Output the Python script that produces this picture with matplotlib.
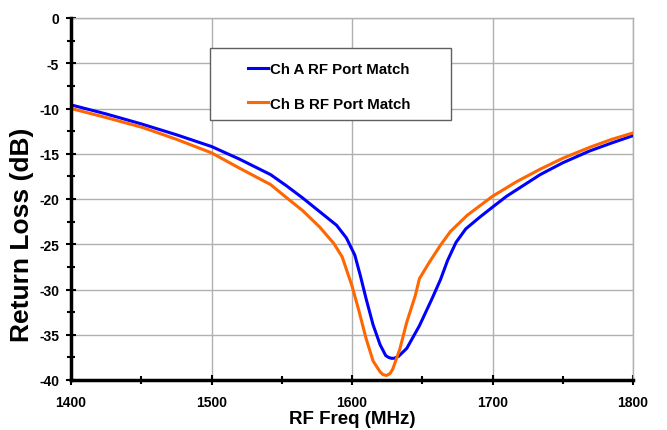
import matplotlib.pyplot as plt
from matplotlib.patches import Rectangle
from matplotlib.ticker import MultipleLocator

plt.rcParams['font.family'] = ['Liberation Sans', 'DejaVu Sans']
plt.rcParams['font.weight'] = 'bold'
plt.rcParams['axes.unicode_minus'] = False

# Ch A RF port match
freq_a = [1400, 1425, 1450, 1475, 1500, 1520, 1542, 1553, 1565, 1577, 1589, 1596,
          1602, 1606, 1610, 1615, 1620, 1624, 1626, 1628, 1630, 1633, 1639, 1648,
          1657, 1663, 1668, 1674, 1681, 1691, 1700, 1710, 1734, 1750, 1769, 1785, 1800]
loss_a = [-9.6, -10.6, -11.7, -12.9, -14.2, -15.6, -17.3, -18.5, -19.9, -21.4, -22.9, -24.3,
          -26.2, -28.5, -31.0, -33.9, -36.1, -37.3, -37.5, -37.6, -37.6, -37.4, -36.5, -34.0,
          -31.0, -28.9, -26.8, -24.8, -23.3, -22.0, -20.9, -19.7, -17.3, -16.0, -14.7, -13.8, -13.0]

# Ch B RF port match
freq_b = [1400, 1425, 1451, 1475, 1500, 1520, 1542, 1553, 1565, 1577, 1587, 1593,
          1600, 1605, 1610, 1615, 1620, 1622, 1624.5, 1627, 1629, 1634, 1639, 1645,
          1648, 1655, 1663, 1670, 1682, 1700, 1717, 1734, 1750, 1769, 1785, 1800]
loss_b = [-10.0, -11.0, -12.1, -13.4, -14.9, -16.6, -18.4, -19.8, -21.3, -23.1, -24.9, -26.4,
          -29.6, -32.4, -35.4, -37.9, -39.1, -39.4, -39.5, -39.3, -38.8, -36.6, -33.6, -30.7,
          -28.8, -27.0, -25.1, -23.6, -21.8, -19.7, -18.1, -16.7, -15.5, -14.3, -13.4, -12.7]

fig = plt.figure(figsize=(6.67, 4.31), dpi=100)
ax = fig.add_axes([71 / 667, 1 - 381 / 431, 562 / 667, 362 / 431])

ax.plot(freq_a, loss_a, color="#0000ff", linewidth=2.2, label="Ch A RF Port Match", zorder=4)
ax.plot(freq_b, loss_b, color="#ff6600", linewidth=2.2, label="Ch B RF Port Match", zorder=4)

ax.set_xlim(1400, 1800)
ax.set_ylim(-40, 0)
ax.xaxis.set_major_locator(MultipleLocator(100))
ax.xaxis.set_minor_locator(MultipleLocator(50))
ax.yaxis.set_major_locator(MultipleLocator(5))
ax.yaxis.set_minor_locator(MultipleLocator(2.5))
ax.grid(True, which="major", color="#b0b0b0", linewidth=1)

for side in ("left", "bottom"):
    ax.spines[side].set_linewidth(2.5)
    ax.spines[side].set_color("black")
    ax.spines[side].set_zorder(5)
for side in ("top", "right"):
    ax.spines[side].set_linewidth(1)
    ax.spines[side].set_color("#b0b0b0")

ax.tick_params(which="both", direction="inout", length=7, width=1.5, color="black",
               labelsize=10)
ax.tick_params(which="minor", length=6)
ax.tick_params(axis="y", pad=5)
ax.tick_params(axis="x", pad=7)
ax.tick_params(top=False, right=False, which="both")

ax.set_xlabel("RF Freq (MHz)", fontsize=13.5, fontweight="bold")
ax.xaxis.set_label_coords(0.5, -0.083)
ax.set_ylabel("Return Loss (dB)", fontsize=19, fontweight="bold")
ax.yaxis.set_label_coords(-0.066, 0.403)

ax.add_patch(Rectangle((0.2473, 0.718), 0.4288, 0.199, transform=ax.transAxes,
                       facecolor="white", edgecolor="#606060", linewidth=1, zorder=3))
ax.legend(loc="upper left", bbox_to_anchor=(0.315, 0.878), frameon=False,
          borderpad=0, borderaxespad=0, handlelength=1.35, handletextpad=0.1,
          labelspacing=1.37, prop={"size": 10.8, "weight": "bold"})

fig.savefig("out.png", dpi=100)
